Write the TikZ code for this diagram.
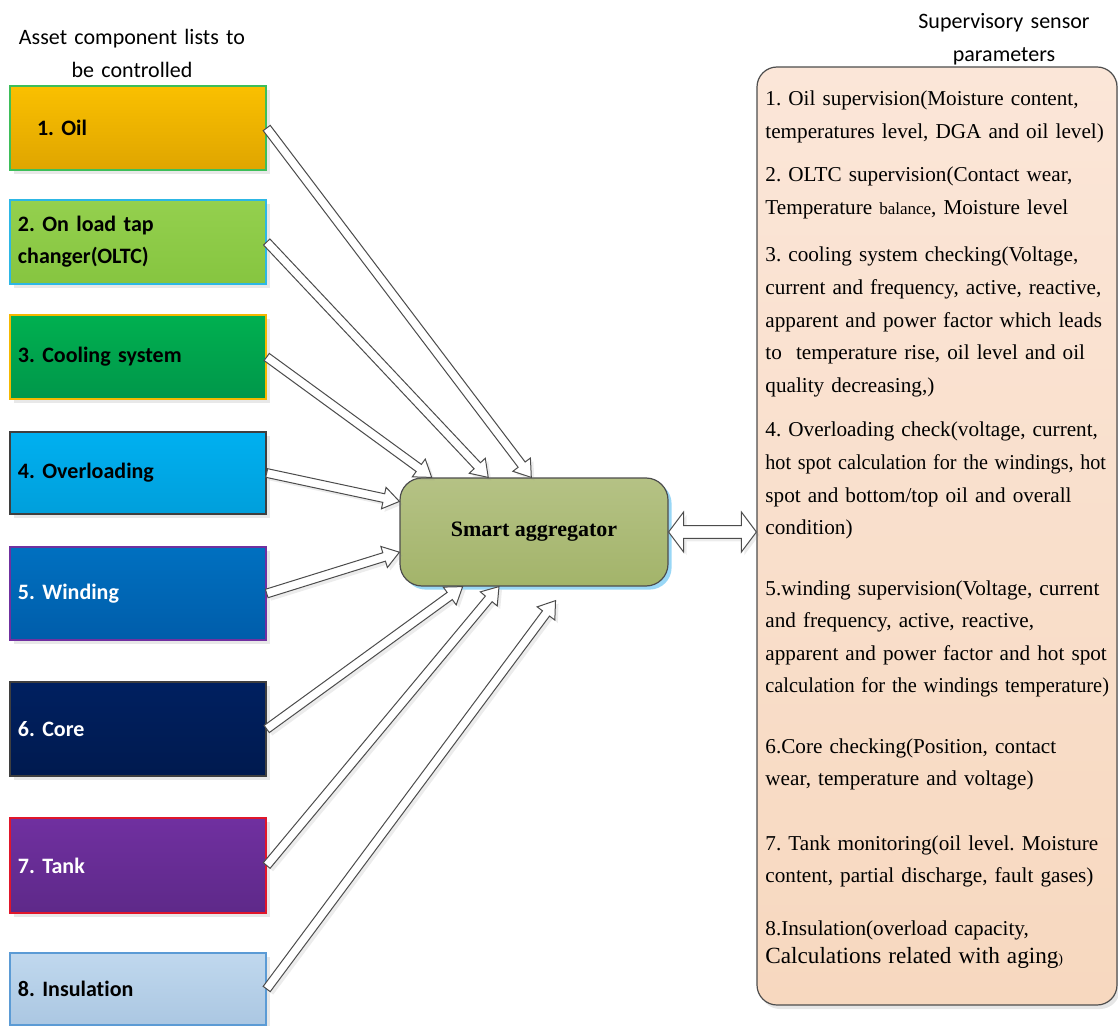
\documentclass[tikz,border=0pt]{standalone}
\usepackage{fontspec}
\setmainfont{Liberation Serif}
\newfontfamily\calibrifont[Ligatures=NoCommon]{Carlito}
\usetikzlibrary{calc,shadows}

\definecolor{edgegray}{HTML}{4D4D4D}
\definecolor{oilA}{HTML}{FAC000}
\definecolor{oilB}{HTML}{DFA500}
\definecolor{oilE}{HTML}{3DBE5A}
\definecolor{oltcA}{HTML}{94D04E}
\definecolor{oltcB}{HTML}{86C540}
\definecolor{oltcE}{HTML}{2DB7E5}
\definecolor{coolA}{HTML}{00B050}
\definecolor{coolB}{HTML}{00974A}
\definecolor{coolE}{HTML}{F5B800}
\definecolor{overA}{HTML}{00B0F0}
\definecolor{overB}{HTML}{009FDB}
\definecolor{overE}{HTML}{3F3F3F}
\definecolor{windA}{HTML}{0070C0}
\definecolor{windB}{HTML}{005DAA}
\definecolor{windE}{HTML}{7030A0}
\definecolor{coreA}{HTML}{002060}
\definecolor{coreB}{HTML}{001A4F}
\definecolor{coreE}{HTML}{3F3F3F}
\definecolor{tankA}{HTML}{7030A0}
\definecolor{tankB}{HTML}{5E2989}
\definecolor{tankE}{HTML}{E0162B}
\definecolor{insuA}{HTML}{C0D8EE}
\definecolor{insuB}{HTML}{ABC7E2}
\definecolor{insuE}{HTML}{5B9BD5}
\definecolor{aggA}{HTML}{B5C285}
\definecolor{aggB}{HTML}{A3B46A}
\definecolor{aggshadow}{HTML}{8ED3F5}
\definecolor{panelA}{HTML}{FBE6D8}
\definecolor{panelB}{HTML}{F7D8BF}

\begin{document}
\frenchspacing
\begin{tikzpicture}[x=0.5pt, y=-0.5pt]
    \tikzset{
        comp/.style={rectangle, line width=0.7pt, minimum width=128pt, text width=120pt, inner xsep=4pt,
            align=left, font=\calibrifont\bfseries\fontsize{11}{16}\selectfont,
            drop shadow={shadow xshift=2pt, shadow yshift=-2pt, opacity=0.18}},
        head/.style={anchor=base, text width=130pt, align=center, font=\calibrifont\fontsize{11}{16.5}\selectfont},
        para/.style={anchor=base west, inner sep=0pt, text width=190pt, align=left, font=\fontsize{10.6}{16.3}\selectfont},
        fat/.style={draw=black!70, fill=white, line width=0.5pt,
            drop shadow={shadow xshift=1.5pt, shadow yshift=-1.5pt, opacity=0.15},
            to path={($(\tikztostart)!2.2pt!90:(\tikztotarget)$)
                -- ($(\tikztotarget)!8pt!(\tikztostart)!2.2pt!90:(\tikztotarget)$)
                -- ($(\tikztotarget)!8pt!(\tikztostart)!5.5pt!90:(\tikztotarget)$)
                -- (\tikztotarget)
                -- ($(\tikztotarget)!8pt!(\tikztostart)!5.5pt!-90:(\tikztotarget)$)
                -- ($(\tikztotarget)!8pt!(\tikztostart)!2.2pt!-90:(\tikztotarget)$)
                -- ($(\tikztostart)!2.2pt!-90:(\tikztotarget)$) -- cycle}},
        fatboth/.style={draw=black!70, fill=white, line width=0.5pt,
            drop shadow={shadow xshift=1.5pt, shadow yshift=-1.5pt, opacity=0.15},
            to path={(\tikztostart)
                -- ($(\tikztostart)!7.5pt!(\tikztotarget)!10pt!90:(\tikztotarget)$)
                -- ($(\tikztostart)!7.5pt!(\tikztotarget)!3.2pt!90:(\tikztotarget)$)
                -- ($(\tikztotarget)!7.5pt!(\tikztostart)!3.2pt!90:(\tikztotarget)$)
                -- ($(\tikztotarget)!7.5pt!(\tikztostart)!10pt!90:(\tikztotarget)$)
                -- (\tikztotarget)
                -- ($(\tikztotarget)!7.5pt!(\tikztostart)!10pt!-90:(\tikztotarget)$)
                -- ($(\tikztotarget)!7.5pt!(\tikztostart)!3.2pt!-90:(\tikztotarget)$)
                -- ($(\tikztostart)!7.5pt!(\tikztotarget)!3.2pt!-90:(\tikztotarget)$)
                -- ($(\tikztostart)!7.5pt!(\tikztotarget)!10pt!-90:(\tikztotarget)$) -- cycle}}
    }
    \useasboundingbox (0,0) rectangle (1118,1026);

    %% headings
    \node[head] (lefthead) at (132,45) {Asset component lists to\\be controlled};
    \node[head] (righthead) at (1004,29) {Supervisory sensor\\parameters};

    %% asset components
    \foreach \nm/\yc/\hgt/\clr/\txtclr/\lbl in {
            oil/128/42/oil/black/{\hspace*{9.5pt}1. Oil},
            oltc/242/42/oltc/black/{2. On load tap\\changer(OLTC)},
            cool/357/42/cool/black/{3. Cooling system},
            over/473/41/over/black/{4. Overloading},
            wind/593.5/46.5/wind/white/{5. Winding},
            core/729/47/core/white/{6. Core},
            tank/865.5/47.5/tank/white/{7. Tank},
            insu/989/36/insu/black/{8. Insulation}} {
            \node[comp, minimum height=\hgt pt, top color=\clr A, bottom color=\clr B, draw=\clr E, text=\txtclr] (\nm) at (138,\yc) {\lbl};
        }

    \node[rectangle, rounded corners=11pt, draw=edgegray, line width=0.6pt, top color=aggA, bottom color=aggB,
        minimum width=134pt, minimum height=54pt, font=\bfseries\fontsize{11}{13}\selectfont,
        drop shadow={shadow xshift=1.8pt, shadow yshift=-1.8pt, fill=aggshadow, opacity=0.9}] (agg) at (534,532) {Smart aggregator};

    \node[rectangle, rounded corners=10pt, draw=edgegray, line width=0.6pt, top color=panelA, bottom color=panelB,
        minimum width=180pt, minimum height=469pt,
        drop shadow={shadow xshift=1.5pt, shadow yshift=-2pt, opacity=0.2}] (panel) at (937,536) {};

    %% where the arrows land
    \coordinate (in1) at ($(agg.north west)!0.49!(agg.north east)$);
    \coordinate (in2) at ($(agg.north west)!0.33!(agg.north east)$);
    \coordinate (in3) at ($(agg.north west)!0.12!(agg.north east)$);
    \coordinate (in4) at ($(agg.north west)!0.22!(agg.south west)$);
    \coordinate (in5) at ($(agg.north west)!0.685!(agg.south west)$);
    \coordinate (in6) at ($(agg.south west)!0.235!(agg.south east)$);
    \coordinate (in7) at ($(agg.south west)!0.37!(agg.south east)$);
    \coordinate (in8) at ($(agg.south west)!0.58!(agg.south east)+(0,14)$);
    \coordinate (pin) at (agg.east -| panel.west);

    \foreach \src/\dst in {oil/in1, oltc/in2, cool/in3, over/in4, wind/in5, core/in6, tank/in7, insu/in8}
        \draw[fat] (\src.east) to (\dst);
    \draw[fatboth] (agg.east) to (pin);

    %% sensor parameters
    \node[para] (p1) at (765,106) {1. Oil supervision(Moisture content,\\temperatures level, DGA and oil level)};
    \node[para] (p2) at (765,182) {2. OLTC supervision(Contact wear,\\Temperature {\fontsize{8.5}{16}\selectfont balance}, Moisture level};
    \node[para] (p3) at (765,262) {3. cooling system checking(Voltage,\\current and frequency, active, reactive,\\apparent and power factor which leads\\to\ \ temperature rise, oil level and oil\\quality decreasing,)};
    \node[para] (p4) at (765,437) {4. Overloading check(voltage, current,\\\scalebox{0.95}[1]{hot spot calculation for the windings, hot}\\spot and bottom/top oil and overall\\condition)};
    \node[para] (p5) at (765,595) {5.winding supervision(Voltage, current\\and frequency, active, reactive,\\apparent and power factor and hot spot\\\scalebox{0.96}[1]{calculation for the windings temperature)}};
    \node[para] (p6) at (765,753) {6.Core checking(Position, contact\\wear, temperature and voltage)};
    \node[para] (p7) at (765,850) {7. Tank monitoring(oil level. Moisture\\content, partial discharge, fault gases)};
    \node[para, font=\fontsize{10.6}{14.2}\selectfont] (p8) at (765,935) {8.Insulation(overload capacity,\\{\fontsize{11.6}{14.2}\selectfont Calculations related with aging}{\scriptsize)}};
\end{tikzpicture}
\end{document}
